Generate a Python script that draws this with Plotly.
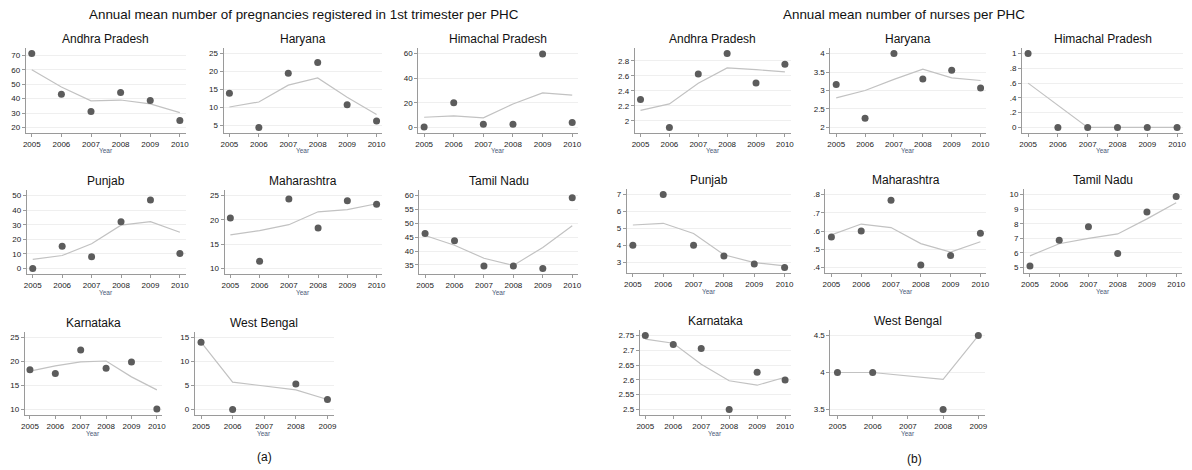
import plotly.graph_objects as go

W, H = 1192, 470

states = ["Andhra Pradesh", "Haryana", "Himachal Pradesh", "Punjab",
          "Maharashtra", "Tamil Nadu", "Karnataka", "West Bengal"]

years_full = [2005, 2006, 2007, 2008, 2009, 2010]
years_wb = [2005, 2006, 2008, 2009]
xticks_full = [2005, 2006, 2007, 2008, 2009, 2010]
xticks_wb = [2005, 2006, 2007, 2008, 2009]

title_a = "Annual mean number of pregnancies registered in 1st trimester per PHC"
title_b = "Annual mean number of nurses per PHC"

# ---- (a) pregnancies registered in 1st trimester per PHC ----
preg_obs = {
    "Andhra Pradesh": [71.2, 43.0, 31.0, 44.3, 38.6, 24.8],
    "Haryana": [13.9, 4.4, 19.5, 22.5, 10.7, 6.2],
    "Himachal Pradesh": [0.3, 20.0, 2.7, 2.7, 59.7, 4.0],
    "Punjab": [0.0, 15.2, 8.0, 32.0, 46.9, 10.3],
    "Maharashtra": [20.4, 11.5, 24.3, 18.3, 23.9, 23.2],
    "Tamil Nadu": [46.3, 43.7, 34.6, 34.6, 33.7, 59.2],
    "Karnataka": [18.3, 17.5, 22.4, 18.6, 19.9, 10.1],
    "West Bengal": [14.0, 0.0, 5.3, 2.1],
}
preg_fit = {
    "Andhra Pradesh": [60.0, 48.0, 38.4, 39.0, 36.3, 30.3],
    "Haryana": [10.1, 11.5, 16.2, 18.2, 12.8, 8.0],
    "Himachal Pradesh": [8.3, 9.4, 7.8, 19.1, 28.0, 26.3],
    "Punjab": [6.2, 8.9, 17.0, 29.7, 32.1, 24.8],
    "Maharashtra": [16.9, 17.8, 19.0, 21.65, 22.1, 23.3],
    "Tamil Nadu": [45.6, 42.1, 37.4, 34.8, 41.3, 49.1],
    "Karnataka": [18.0, 19.1, 19.9, 20.1, 16.8, 14.1],
    "West Bengal": [14.0, 5.7, 4.1, 2.1],
}
preg_yticks = {
    "Andhra Pradesh": [20, 30, 40, 50, 60, 70],
    "Haryana": [5, 10, 15, 20, 25],
    "Himachal Pradesh": [0, 20, 40, 60],
    "Punjab": [0, 10, 20, 30, 40, 50],
    "Maharashtra": [10, 15, 20, 25],
    "Tamil Nadu": [35, 40, 45, 50, 55, 60],
    "Karnataka": [10, 15, 20, 25],
    "West Bengal": [0, 5, 10, 15],
}
preg_ylabels = {k: [str(v) for v in vals] for k, vals in preg_yticks.items()}

# ---- (b) nurses per PHC ----
nurse_obs = {
    "Andhra Pradesh": [2.284, 1.912, 2.625, 2.896, 2.503, 2.752],
    "Haryana": [3.16, 2.25, 4.0, 3.31, 3.55, 3.07],
    "Himachal Pradesh": [1.0, 0.0, 0.0, 0.0, 0.0, 0.0],
    "Punjab": [4.0, 7.0, 4.0, 3.37, 2.9, 2.69],
    "Maharashtra": [0.567, 0.6, 0.768, 0.414, 0.466, 0.587],
    "Tamil Nadu": [5.11, 6.875, 7.79, 5.96, 8.8, 9.87],
    "Karnataka": [2.75, 2.72, 2.706, 2.5, 2.626, 2.6],
    "West Bengal": [4.0, 4.0, 3.5, 4.5],
}
nurse_fit = {
    "Andhra Pradesh": [2.14, 2.226, 2.5, 2.704, 2.682, 2.651],
    "Haryana": [2.8, 3.0, 3.3, 3.58, 3.34, 3.27],
    "Himachal Pradesh": [0.6, 0.3, 0.0, 0.0, 0.0, 0.0],
    "Punjab": [5.2, 5.3, 4.7, 3.44, 2.98, 2.79],
    "Maharashtra": [0.579, 0.638, 0.619, 0.531, 0.484, 0.541],
    "Tamil Nadu": [5.8, 6.63, 6.99, 7.3, 8.33, 9.44],
    "Karnataka": [2.738, 2.724, 2.653, 2.597, 2.582, 2.609],
    "West Bengal": [4.0, 4.0, 3.906, 4.5],
}
nurse_yticks = {
    "Andhra Pradesh": [2.0, 2.2, 2.4, 2.6, 2.8],
    "Haryana": [2.0, 2.5, 3.0, 3.5, 4.0],
    "Himachal Pradesh": [0.0, 0.2, 0.4, 0.6, 0.8, 1.0],
    "Punjab": [3, 4, 5, 6, 7],
    "Maharashtra": [0.4, 0.5, 0.6, 0.7, 0.8],
    "Tamil Nadu": [5, 6, 7, 8, 9, 10],
    "Karnataka": [2.5, 2.55, 2.6, 2.65, 2.7, 2.75],
    "West Bengal": [3.5, 4.0, 4.5],
}
nurse_ylabels = {
    "Andhra Pradesh": ["2", "2.2", "2.4", "2.6", "2.8"],
    "Haryana": ["2", "2.5", "3", "3.5", "4"],
    "Himachal Pradesh": ["0", ".2", ".4", ".6", ".8", "1"],
    "Punjab": ["3", "4", "5", "6", "7"],
    "Maharashtra": [".4", ".5", ".6", ".7", ".8"],
    "Tamil Nadu": ["5", "6", "7", "8", "9", "10"],
    "Karnataka": ["2.5", "2.55", "2.6", "2.65", "2.7", "2.75"],
    "West Bengal": ["3.5", "4", "4.5"],
}

# ---- geometry (pixels): x0, x1, ytop, ybottom of each plot area ----
geom_a = [
    (22, 183, 48, 133), (221, 381, 48, 133), (417, 578, 48, 133),
    (23, 183, 190, 274), (222, 381, 190, 274), (418, 578, 190, 274),
    (21, 159, 332, 415), (192, 332, 332, 415),
]
geom_b = [
    (635, 792, 48, 133), (832, 989, 48, 133), (1025, 1187, 48, 133),
    (627, 792, 189, 273), (827, 989, 189, 273), (1027, 1186, 189, 273),
    (640, 792, 330, 415), (832, 988, 330, 415),
]

FONT = "Liberation Sans, Arial, sans-serif"
AXIS_COL = "#9a9a9a"
GRID_COL = "#efefef"
MARK_COL = "#5c5c5c"
LINE_COL = "#c2c2c2"

fig = go.Figure()
layout = dict(
    width=W, height=H, margin=dict(l=0, r=0, t=0, b=0),
    paper_bgcolor="white", plot_bgcolor="white", showlegend=False,
    font=dict(family=FONT, color="#222"),
)
annotations = []

panels = [
    (preg_obs, preg_fit, preg_yticks, preg_ylabels, geom_a),
    (nurse_obs, nurse_fit, nurse_yticks, nurse_ylabels, geom_b),
]

idx = 0
for obs, fit, yt, yl, geom in panels:
    for s, g in zip(states, geom):
        idx += 1
        x0, x1, yt_px, yb_px = g
        xs = years_wb if s == "West Bengal" else years_full
        xt = xticks_wb if s == "West Bengal" else xticks_full
        xn = "x" if idx == 1 else f"x{idx}"
        yn = "y" if idx == 1 else f"y{idx}"
        xk = "xaxis" if idx == 1 else f"xaxis{idx}"
        yk = "yaxis" if idx == 1 else f"yaxis{idx}"

        fig.add_trace(go.Scatter(x=xs, y=fit[s], mode="lines",
                                 line=dict(color=LINE_COL, width=1.2),
                                 xaxis=xn, yaxis=yn, hoverinfo="skip"))
        fig.add_trace(go.Scatter(x=xs, y=obs[s], mode="markers",
                                 marker=dict(color=MARK_COL, size=7),
                                 xaxis=xn, yaxis=yn))

        allv = list(obs[s]) + list(fit[s]) + list(yt[s])
        lo, hi = min(allv), max(allv)
        pad = 0.075 * (hi - lo)
        xpad = 0.2

        layout[xk] = dict(
            domain=[x0 / W, x1 / W], anchor=yn,
            range=[xt[0] - xpad, xt[-1] + xpad],
            tickvals=xt, ticktext=[str(v) for v in xt],
            showline=True, linecolor=AXIS_COL, linewidth=1,
            ticks="outside", ticklen=3, tickcolor=AXIS_COL, tickwidth=1,
            tickfont=dict(size=8, color="#222"),
            showgrid=False, zeroline=False, fixedrange=True,
        )
        layout[yk] = dict(
            domain=[1 - yb_px / H, 1 - yt_px / H], anchor=xn,
            range=[lo - pad, hi + pad],
            tickvals=yt[s], ticktext=yl[s],
            showline=True, linecolor=AXIS_COL, linewidth=1,
            ticks="outside", ticklen=3, tickcolor=AXIS_COL, tickwidth=1,
            tickfont=dict(size=8, color="#222"),
            showgrid=True, gridcolor=GRID_COL, gridwidth=1,
            zeroline=False, fixedrange=True,
        )
        cx = (x0 + x1) / 2 / W
        annotations.append(dict(
            text=s, x=cx, y=1 - (yt_px - 9) / H, xref="paper", yref="paper",
            showarrow=False, xanchor="center", yanchor="middle",
            font=dict(size=12, color="#111", family=FONT)))
        annotations.append(dict(
            text="Year", x=cx, y=1 - (yb_px + 18) / H, xref="paper", yref="paper",
            showarrow=False, xanchor="center", yanchor="middle",
            font=dict(size=6.5, color="#4a5878", family=FONT)))

annotations.append(dict(text=title_a, x=84 / W, y=1 - 15 / H, xref="paper", yref="paper",
                        showarrow=False, xanchor="left", yanchor="middle",
                        font=dict(size=13.4, color="#111", family=FONT)))
annotations.append(dict(text=title_b, x=782 / W, y=1 - 15 / H, xref="paper", yref="paper",
                        showarrow=False, xanchor="left", yanchor="middle",
                        font=dict(size=13.4, color="#111", family=FONT)))
annotations.append(dict(text="(a)", x=262 / W, y=1 - 457 / H, xref="paper", yref="paper",
                        showarrow=False, xanchor="center", yanchor="middle",
                        font=dict(size=12, color="#111", family=FONT)))
annotations.append(dict(text="(b)", x=917 / W, y=1 - 459 / H, xref="paper", yref="paper",
                        showarrow=False, xanchor="center", yanchor="middle",
                        font=dict(size=12, color="#111", family=FONT)))

layout["annotations"] = annotations
fig.update_layout(**layout)
fig.write_html("out.html",
               config={"displayModeBar": False},
               post_script="document.body.style.margin='0';document.body.style.overflow='hidden';")
